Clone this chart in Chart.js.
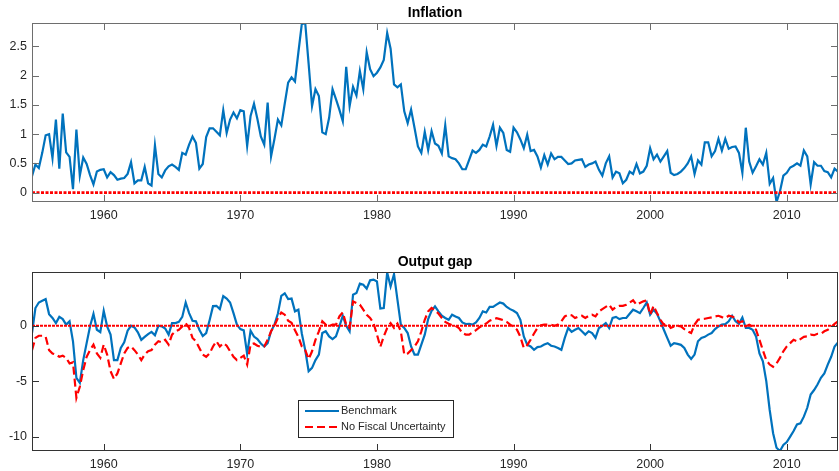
<!DOCTYPE html>
<html>
<head>
<meta charset="utf-8">
<script src="https://cdn.jsdelivr.net/npm/chart.js@4.4.1/dist/chart.umd.min.js"></script>
<style>
  body { margin: 0; background: #fff; }
  canvas { position: absolute; left: 0; }
</style>
</head>
<body>
<canvas id="inflChart" width="839" height="240" style="top:0px"></canvas>
<canvas id="gapChart" width="839" height="231" style="top:240px"></canvas>
<script>
// quarterly data, first obs 1954Q4
const startYear = 1954.75;

const inflation = [
  0.28,0.48,0.42,0.68,0.98,1.00,0.59,1.25,0.41,1.35,
  0.69,0.61,0.06,1.08,0.29,0.60,0.49,0.30,0.14,0.36,
  0.39,0.40,0.26,0.35,0.30,0.22,0.24,0.25,0.32,0.52,
  0.16,0.21,0.21,0.44,0.16,0.12,0.81,0.32,0.26,0.38,
  0.45,0.48,0.44,0.39,0.68,0.65,0.82,0.96,0.85,0.41,
  0.49,0.95,1.10,1.10,1.04,0.98,1.41,1.02,1.25,1.37,
  1.27,1.41,1.39,0.80,1.31,1.52,1.26,0.96,0.82,1.54,
  0.62,0.92,1.25,1.15,1.52,1.88,1.97,1.90,2.40,2.88,
  2.90,2.20,1.48,1.77,1.65,1.03,1.00,1.28,1.77,1.60,
  1.42,1.22,2.15,1.48,1.81,1.66,2.08,1.77,2.40,2.11,
  1.99,2.05,2.14,2.27,2.73,2.46,1.85,1.80,1.85,1.39,
  1.19,1.42,1.11,0.79,0.68,1.04,0.73,1.05,0.84,0.80,
  0.67,1.15,0.62,0.59,0.57,0.50,0.40,0.40,0.56,0.72,
  0.68,0.73,0.82,0.79,0.96,1.16,0.80,1.11,1.02,0.73,
  0.70,1.11,1.03,0.91,0.76,0.99,0.71,0.73,0.62,0.43,
  0.64,0.48,0.67,0.57,0.61,0.61,0.55,0.49,0.50,0.55,
  0.56,0.57,0.44,0.48,0.50,0.53,0.39,0.29,0.50,0.62,
  0.26,0.36,0.33,0.16,0.22,0.36,0.32,0.49,0.33,0.36,
  0.46,0.76,0.57,0.65,0.53,0.62,0.71,0.34,0.30,0.32,
  0.36,0.42,0.50,0.62,0.32,0.55,0.48,0.86,0.86,0.62,
  0.71,0.92,0.72,0.92,0.75,0.78,0.79,0.68,0.34,1.11,
  0.53,0.34,0.45,0.57,0.48,0.68,0.15,0.25,-0.16,0.02,
  0.29,0.34,0.43,0.46,0.50,0.46,0.72,0.62,0.14,0.52,
  0.46,0.46,0.37,0.35,0.26,0.41,0.36
];

const gapBenchmark = [
  -0.66,1.6,2.1,2.26,2.4,1.05,0.7,0.24,0.8,0.6,
  0.1,0.4,-1.4,-4.7,-5.15,-3.1,-1.57,-0.05,1.08,-0.36,
  -0.58,1.35,-0.05,-0.8,-3.1,-3.1,-2.0,-1.5,-0.45,0,
  -0.15,-0.6,-1.27,-1.0,-0.75,-0.55,-0.85,0,-0.05,-0.25,
  -0.8,0.24,0.24,0.35,0.8,2.1,1.14,0.45,0.4,-0.36,
  -0.93,-0.66,0.5,1.77,1.8,1.5,2.68,2.45,2.1,1.14,
  0.1,-0.3,-0.42,-2.55,-0.45,-0.98,-1.2,-1.6,-1.87,-1.57,
  -0.5,0.1,1.1,2.7,2.93,2.4,2.45,1.3,1.45,-0.7,
  -2.2,-4.1,-3.8,-3.1,-2.6,-0.66,-0.5,-0.96,-1.2,-0.96,
  -0.06,0.9,0,-0.5,2.8,2.95,3.8,3.7,3.35,4.1,
  4.16,4.0,1.55,1.6,4.8,3.55,4.65,2.35,0.1,-0.2,
  -0.66,-1.87,-2.6,-2.6,-1.7,-0.8,0.6,1.35,1.75,1.3,
  0.9,0.7,0.54,1.0,0.84,0.7,0.3,0.15,0.18,0.1,
  0.3,0.7,1.3,1.2,1.7,1.7,1.9,2.1,2.0,1.7,
  1.5,1.35,1.14,0.54,-0.96,-1.7,-1.87,-2.17,-1.93,-1.87,
  -1.7,-1.57,-1.8,-1.87,-2.0,-2.17,-1.1,-0.2,-0.55,-0.36,
  -0.2,-0.5,-0.8,-0.5,-0.66,-1.1,-0.2,0,0.24,-0.2,
  0.7,0.8,0.6,0.7,0.7,1.08,1.45,1.3,1.14,1.6,
  2.1,1.0,1.45,1.08,0.4,-0.36,-1.1,-1.8,-1.57,-1.63,
  -1.72,-2.0,-2.6,-3.0,-2.6,-1.4,-1.1,-1.0,-0.8,-0.66,
  -0.3,-0.06,0.1,0.15,0.4,0.9,0.4,0.18,0.75,-0.2,
  -0.2,-0.36,-0.96,-2.5,-3.2,-5.0,-7.6,-9.7,-11.0,-11.3,
  -10.75,-10.5,-10.0,-9.5,-8.9,-8.8,-8.2,-7.4,-6.2,-5.8,
  -5.3,-4.7,-4.3,-3.5,-2.8,-1.87,-1.5
];

const gapNoFiscal = [
  -2.2,-1.1,-0.9,-0.9,-1.0,-2.2,-2.5,-2.6,-2.8,-2.7,
  -2.9,-3.4,-3.3,-6.5,-5.5,-4.0,-2.8,-2.2,-1.7,-2.5,
  -2.9,-1.7,-2.6,-4.1,-4.8,-4.3,-3.4,-2.5,-2.0,-1.87,
  -2.2,-2.6,-3.1,-2.6,-2.3,-2.2,-1.7,-1.4,-1.5,-1.27,
  -1.7,-0.8,-0.5,-0.36,-0.06,0.24,-0.2,-1.1,-1.4,-2.0,
  -2.6,-2.8,-2.5,-1.87,-1.4,-1.87,-1.57,-1.8,-2.3,-2.8,
  -3.1,-2.9,-2.7,-3.5,-1.7,-1.6,-1.8,-1.9,-1.87,-1.27,
  -0.5,0,0.7,1.2,1.0,0.45,0.27,-0.4,-1.0,-1.87,
  -2.2,-3.0,-2.3,-1.27,-0.5,0.4,0.1,-0.06,0.1,0.1,
  0.84,1.2,0.1,-0.2,2.2,2.05,1.9,1.45,1.0,0.7,
  0.24,-0.8,-1.9,-0.96,-0.2,0.24,-0.2,0.2,-0.5,-2.6,
  -2.5,-2.2,-1.87,-1.4,-0.5,0.54,1.3,1.6,1.4,1.1,
  0.7,0.35,0.18,0.05,0,-0.2,-0.66,-0.8,-0.8,-0.6,
  -0.4,-0.15,0.05,0.2,0.45,0.57,0.68,0.6,0.5,0.35,
  0.1,-0.1,-0.36,-1.0,-2.0,-1.75,-1.25,-0.7,-0.2,0.05,
  0.1,0.1,0.1,0,0.1,0.4,0.84,1.0,0.95,0.7,
  0.84,0.9,0.7,0.9,1.0,0.84,1.3,1.5,1.7,1.9,
  1.45,1.7,1.8,1.8,1.9,2.1,2.3,1.9,2.05,2.2,
  2.3,1.0,1.8,1.15,0.54,0.1,0.24,-0.2,-0.06,0,
  -0.06,-0.3,-0.5,-0.66,0.1,0.54,0.6,0.63,0.7,0.75,
  0.84,0.9,0.78,0.7,0.9,0.84,0.7,0.3,0.4,-0.06,
  0.1,-0.06,-0.36,-1.27,-2.2,-3.1,-3.5,-3.7,-3.4,-2.9,
  -2.3,-1.87,-1.57,-1.27,-1.4,-1.2,-1.0,-0.96,-0.8,-0.85,
  -0.72,-0.72,-0.5,-0.36,-0.12,0.18,0.4
];

const yearTicks = [1960, 1970, 1980, 1990, 2000, 2010];
const inflTicks = [0, 0.5, 1, 1.5, 2, 2.5];
const gapTicks = [-10, -5, 0];

const BLUE = '#0072BD';
const RED = '#FF0000';
const TXT = '#262626';
const FONT = '"Liberation Sans", Arial, Helvetica, sans-serif';

const quarters = inflation.map((_, i) => startYear + i * 0.25);
const pts = arr => arr.map((v, i) => ({x: quarters[i], y: v}));
const zeroLine = [{x: quarters[0], y: 0}, {x: quarters[quarters.length - 1], y: 0}];

// box + inward ticks + title, matlab style
const framePlugin = {
    id: 'frame',
    afterDatasetsDraw(chart, args, opts) {
        const ctx = chart.ctx, a = chart.chartArea;
        const xs = chart.scales.x, ys = chart.scales.y;
        const len = 7;
        ctx.save();
        ctx.strokeStyle = opts.color;
        ctx.lineWidth = 1;
        ctx.strokeRect(a.left + 0.5, a.top + 0.5, a.right - a.left - 1, a.bottom - a.top - 1);
        ctx.beginPath();
        xs.ticks.forEach(t => {
            const px = Math.round(xs.getPixelForValue(t.value)) + 0.5;
            ctx.moveTo(px, a.top); ctx.lineTo(px, a.top + len);
            ctx.moveTo(px, a.bottom); ctx.lineTo(px, a.bottom - len);
        });
        ys.ticks.forEach(t => {
            const py = Math.round(ys.getPixelForValue(t.value)) + 0.5;
            ctx.moveTo(a.left, py); ctx.lineTo(a.left + len, py);
            ctx.moveTo(a.right, py); ctx.lineTo(a.right - len, py);
        });
        ctx.stroke();
        ctx.fillStyle = '#000';
        ctx.font = 'bold 14px ' + FONT;
        ctx.textAlign = 'center';
        ctx.textBaseline = 'middle';
        ctx.fillText(opts.title, (a.left + a.right) / 2, a.top - 10);
        ctx.restore();
    }
};

const boxLegend = {
    id: 'boxLegend',
    afterDraw(chart, args, opts) {
        if (!opts.show) return;
        const ctx = chart.ctx;
        const items = chart.data.datasets.filter(d => d.inLegend);
        ctx.save();
        ctx.fillStyle = '#fff';
        ctx.fillRect(opts.x, opts.y, opts.w, opts.h);
        ctx.strokeStyle = TXT;
        ctx.lineWidth = 1;
        ctx.strokeRect(opts.x + 0.5, opts.y + 0.5, opts.w, opts.h);
        ctx.font = '11px ' + FONT;
        ctx.textBaseline = 'middle';
        items.forEach((d, i) => {
            const yy = opts.y + 11 + i * 16;
            ctx.strokeStyle = d.borderColor;
            ctx.lineWidth = d.borderWidth;
            ctx.setLineDash(d.borderDash || []);
            ctx.beginPath();
            ctx.moveTo(opts.x + 7, yy);
            ctx.lineTo(opts.x + 41, yy);
            ctx.stroke();
            ctx.setLineDash([]);
            ctx.fillStyle = TXT;
            ctx.fillText(d.label, opts.x + 43, yy);
        });
        ctx.restore();
    }
};

function makeOptions(cfg) {
    return {
        responsive: false,
        animation: false,
        devicePixelRatio: 1,
        layout: { padding: { top: cfg.top, right: 1, left: 0, bottom: 0 } },
        elements: { point: { radius: 0 }, line: { tension: 0 } },
        plugins: {
            legend: { display: false },
            tooltip: { enabled: false },
            frame: { title: cfg.title, color: cfg.frameColor },
            boxLegend: cfg.legend || { show: false }
        },
        scales: {
            x: {
                type: 'linear',
                min: quarters[0],
                max: quarters[quarters.length - 1],
                grid: { display: false, drawTicks: false },
                border: { display: false },
                afterBuildTicks: s => { s.ticks = yearTicks.map(v => ({value: v})); },
                afterFit: s => { s.height = cfg.xHeight; },
                ticks: {
                    color: TXT, padding: 6, maxRotation: 0,
                    font: { family: FONT, size: 12.5 },
                    callback: v => String(v)
                }
            },
            y: {
                min: cfg.yMin,
                max: cfg.yMax,
                grid: { display: false, drawTicks: false },
                border: { display: false },
                afterBuildTicks: s => { s.ticks = cfg.yTicks.map(v => ({value: v})); },
                afterFit: s => { s.width = 32; },
                ticks: {
                    color: TXT, padding: 5,
                    font: { family: FONT, size: 12.5 },
                    callback: v => String(v)
                }
            }
        }
    };
}

new Chart(document.getElementById('inflChart'), {
    type: 'line',
    data: {
        datasets: [
            { label: 'zero', data: zeroLine, borderColor: RED, borderWidth: 2.8, borderDash: [3, 1.5], order: 0 },
            { label: 'Benchmark', data: pts(inflation), borderColor: BLUE, borderWidth: 2.2, order: 2 }
        ]
    },
    options: makeOptions({
        top: 23, xHeight: 38, title: 'Inflation', frameColor: '#6e6e6e',
        yMin: Math.min(...inflation), yMax: Math.max(...inflation), yTicks: inflTicks
    }),
    plugins: [framePlugin, boxLegend]
});

new Chart(document.getElementById('gapChart'), {
    type: 'line',
    data: {
        datasets: [
            { label: 'zero', data: zeroLine, borderColor: RED, borderWidth: 2, borderDash: [3, 1], order: 0 },
            { label: 'Benchmark', data: pts(gapBenchmark), borderColor: BLUE, borderWidth: 2.2, order: 2, inLegend: true },
            { label: 'No Fiscal Uncertainty', data: pts(gapNoFiscal), borderColor: RED, borderWidth: 2.2, borderDash: [8, 4], order: 1, inLegend: true }
        ]
    },
    options: makeOptions({
        top: 32, xHeight: 20, title: 'Output gap', frameColor: '#333333',
        yMin: Math.min(...gapBenchmark, ...gapNoFiscal), yMax: Math.max(...gapBenchmark, ...gapNoFiscal) + 0.05,
        yTicks: gapTicks,
        legend: { show: true, x: 298, y: 160, w: 155, h: 37 }
    }),
    plugins: [framePlugin, boxLegend]
});
</script>
</body>
</html>
